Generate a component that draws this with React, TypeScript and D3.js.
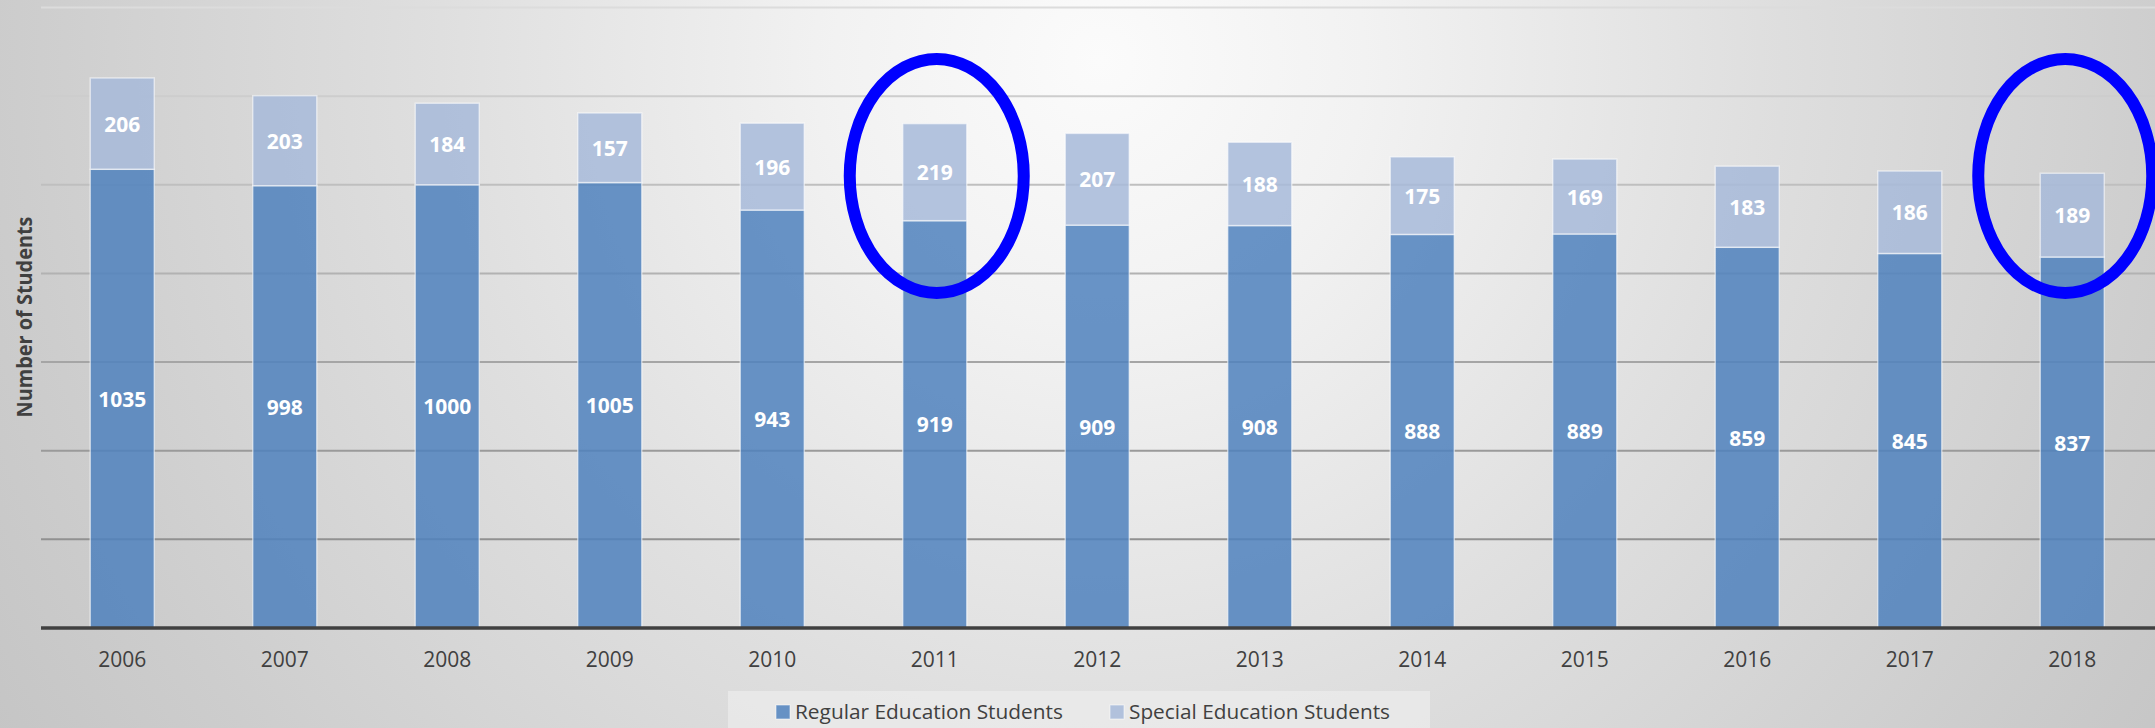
import React from "react";
import * as d3 from "d3";

const years = ["2006","2007","2008","2009","2010","2011","2012","2013","2014","2015","2016","2017","2018"];
const regular = [1035, 998, 1000, 1005, 943, 919, 909, 908, 888, 889, 859, 845, 837];
const special = [206, 203, 184, 157, 196, 219, 207, 188, 175, 169, 183, 186, 189];
const yTicks = [0, 200, 400, 600, 800, 1000, 1200, 1400];
const seriesNames = ["Regular Education Students", "Special Education Students"];
const highlightYears = ["2011", "2018"];
const highlightCenterValue = 1020;

const W = 2155;
const H = 728;
const colors = { regular: "#4f81bd", special: "#a7bad9" };

export default function App() {
  const x = d3.scaleBand<string>().domain(years).range([41, 41 + 13 * 162.5]).paddingInner(0.606).paddingOuter(0.303);
  const y = d3.scaleLinear().domain([0, 1400]).range([628, 7.5]);
  const bw = x.bandwidth();
  const gridColor = (v: number) => d3.interpolateRgb("#8a8a8a", "#dcdcdc")(Math.pow(v / 1400, 1.3));
  const stacked = d3.stack<any>().keys(["regular", "special"])(
    years.map((yr, i) => ({ year: yr, regular: regular[i], special: special[i] }))
  );
  const hlOffsets: Record<string, number> = { "2011": 2, "2018": -7 };

  return (
    <svg width={W} height={H} style={{ position: "absolute", left: 0, top: 0 }} fontFamily="'Open Sans', 'Noto Sans', sans-serif">
      <defs>
        <radialGradient id="bg" gradientUnits="userSpaceOnUse" cx={1100} cy={60} r={1320}>
          <stop offset="0" stopColor="#fbfbfb" />
          <stop offset="0.2" stopColor="#f2f2f2" />
          <stop offset="0.5" stopColor="#dfdfdf" />
          <stop offset="0.82" stopColor="#cdcdcd" />
          <stop offset="1" stopColor="#c4c4c4" />
        </radialGradient>
      </defs>
      <rect x={0} y={0} width={W} height={H} fill="url(#bg)" />

      {yTicks.filter(t => t > 0).map(t => (
        <line key={t} x1={41} x2={W} y1={y(t)} y2={y(t)} stroke={gridColor(t)} strokeWidth={2} />
      ))}

      {stacked.map((layer, li) => (
        <g key={layer.key}>
          {layer.map((d, i) => (
            <rect
              key={years[i]}
              x={x(years[i])!}
              y={y(d[1])}
              width={bw}
              height={y(d[0]) - y(d[1])}
              fill={li === 0 ? colors.regular : colors.special}
              fillOpacity={0.85}
              stroke="rgba(255,255,255,0.55)"
              strokeWidth={1.5}
            />
          ))}
        </g>
      ))}

      {stacked.map((layer) => (
        <g key={"l" + layer.key}>
          {layer.map((d, i) => (
            <text
              key={years[i]}
              x={x(years[i])! + bw / 2}
              y={(y(d[0]) + y(d[1])) / 2}
              textAnchor="middle"
              dominantBaseline="central"
              fill="#ffffff"
              fontWeight={700}
              fontSize={21}
            >
              {d[1] - d[0]}
            </text>
          ))}
        </g>
      ))}

      <line x1={41} x2={W} y1={y(0)} y2={y(0)} stroke="#404040" strokeWidth={3.5} />

      {years.map(yr => (
        <text key={yr} x={x(yr)! + bw / 2} y={667} textAnchor="middle" fill="#404040" fontSize={21}>
          {yr}
        </text>
      ))}

      <text
        transform="translate(32,317) rotate(-90)"
        textAnchor="middle"
        fill="#404040"
        fontWeight={700}
        fontSize={21}
        textLength={201}
        lengthAdjust="spacingAndGlyphs"
      >
        Number of Students
      </text>

      {highlightYears.map(yr => (
        <ellipse
          key={yr}
          cx={x(yr)! + bw / 2 + hlOffsets[yr]}
          cy={y(highlightCenterValue)}
          rx={87}
          ry={117}
          fill="none"
          stroke="#0000ff"
          strokeWidth={12}
        />
      ))}

      <rect x={728} y={691} width={702} height={40} fill="#ececec" fillOpacity={0.7} />
      <rect x={776} y={705} width={14} height={14} fill={colors.regular} fillOpacity={0.85} stroke="rgba(255,255,255,0.55)" />
      <text x={795} y={719} fill="#404040" fontSize={19.5} textLength={268} lengthAdjust="spacingAndGlyphs">{seriesNames[0]}</text>
      <rect x={1110} y={705} width={14} height={14} fill={colors.special} fillOpacity={0.85} stroke="rgba(255,255,255,0.55)" />
      <text x={1129} y={719} fill="#404040" fontSize={19.5} textLength={261} lengthAdjust="spacingAndGlyphs">{seriesNames[1]}</text>
    </svg>
  );
}
